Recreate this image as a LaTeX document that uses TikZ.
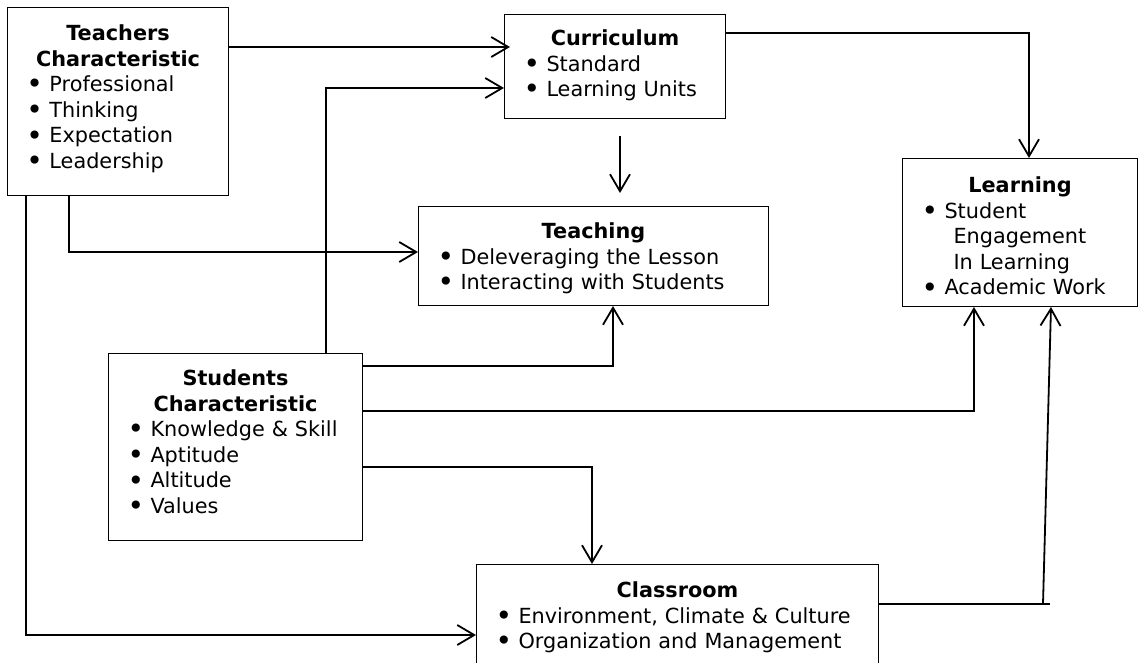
\documentclass[tikz,border=0pt]{standalone}
\usepackage{fontspec}
\setmainfont{DejaVu Sans}
\usetikzlibrary{arrows.meta}
\newcommand\itembul{\makebox[23pt][l]{\raisebox{-2.2pt}{\scalebox{1.35}{\textbullet}}}}
\begin{document}
\begin{tikzpicture}[x=1pt,y=-1pt,
  box/.style={draw,line width=1pt,anchor=north west,inner xsep=19pt,inner ysep=0pt,
    align=left,text height=32pt,font=\fontsize{20.8}{25.6}\selectfont},
  conn/.style={line width=1.8pt,-{Straight Barb[length=17pt,width=20pt]}},
  wire/.style={line width=1.8pt}]
\path[use as bounding box,clip] (0,0) rectangle (1144,662);
%
\node[box,text width=183pt,text depth=155pt,text height=33pt] (teach) at (7,7)
{{\centering\bfseries Teachers\\Characteristic\par}
\itembul Professional\\ \itembul Thinking\\ \itembul Expectation\\ \itembul Leadership};
\node[box,text width=183pt,text depth=73pt,text height=31pt] (curr) at (504,14)
{{\centering\bfseries Curriculum\par}
\itembul Standard\\ \itembul Learning Units};
\node[box,text width=312pt,text depth=67pt] (teaching) at (418,206)
{{\centering\bfseries Teaching\par}
\itembul Deleveraging the Lesson\\ \itembul Interacting with Students};
\node[box,text width=197pt,text depth=114pt,text height=34pt] (learn) at (902,158)
{{\centering\bfseries Learning\par}
\itembul Student\\ \hspace*{32pt}Engagement\\ \hspace*{32pt}In Learning\\ \itembul Academic Work};
\node[box,text width=216pt,text depth=155pt] (stud) at (108,353)
{{\centering\bfseries Students\\Characteristic\par}
\itembul Knowledge \& Skill\\ \itembul Aptitude\\ \itembul Altitude\\ \itembul Values};
\node[box,text width=364pt,text depth=67pt,text height=33pt] (class) at (476,564)
{{\centering\bfseries Classroom\par}
\itembul Environment, Climate \& Culture\\ \itembul Organization and Management};
%
\coordinate (a1) at (0,47);
\coordinate (a2) at (326,88);
\coordinate (a3) at (69,252);
\coordinate (a4) at (26,635);
\coordinate (a5) at (1029,33);
\coordinate (a6) at (620,136);
\coordinate (a7) at (620,193);
\coordinate (a8) at (613,366);
\coordinate (a9) at (974,411);
\coordinate (a10) at (592,467);
\coordinate (a11) at (1050,604);
\coordinate (a12) at (1043,604);
\coordinate (a13) at (1051,0);
%
\draw[conn,shorten >=-6pt] (teach.east |- a1) -- (curr.west |- a1);
\draw[conn] (stud.north -| a2) |- (curr.west |- a2);
\draw[conn] (teach.south -| a3) |- (teaching.west |- a3);
\draw[conn] (teach.south -| a4) |- (class.west |- a4);
\draw[conn] (curr.east |- a5) -| (learn.north -| a5);
\draw[conn] (a6) -- (a7);
\draw[conn] (stud.east |- a8) -| (teaching.south -| a8);
\draw[conn] (stud.east |- a9) -| (learn.south -| a9);
\draw[conn] (stud.east |- a10) -| (class.north -| a10);
\draw[wire] (class.east |- a11) -- (a11);
\draw[conn] (a12) -- (learn.south -| a13);
\end{tikzpicture}
\end{document}
